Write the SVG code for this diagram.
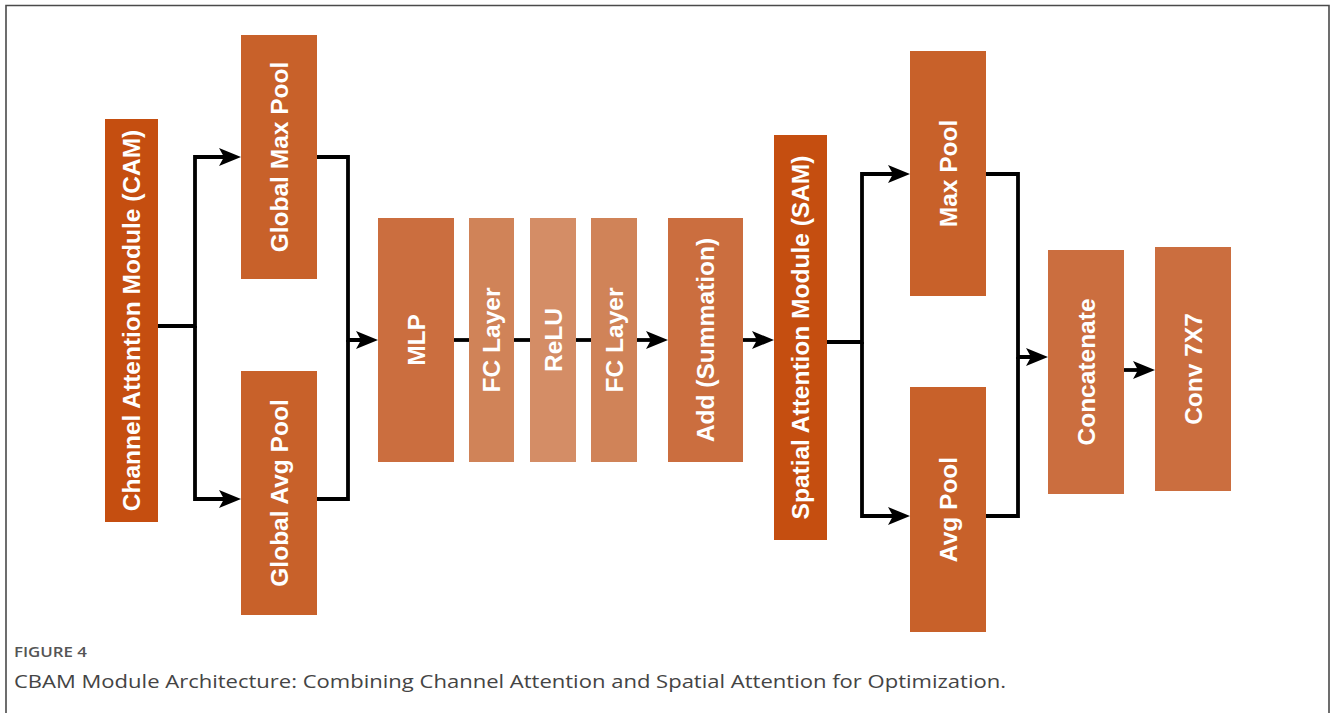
<svg xmlns="http://www.w3.org/2000/svg" width="1332" height="713" viewBox="0 0 1332 713">
  <style>
    .lbl { font-family: "Liberation Sans", Arial, sans-serif; font-weight: bold; font-size: 24.5px; fill: #ffffff; text-anchor: middle; dominant-baseline: central; }
    .mod { fill: #C54E10; }
    .pool { fill: #C8612A; }
    .blk { fill: #CB6E3F; }
    .fc { fill: #D08358; }
    .relu { fill: #D48D66; }
    .wire { fill: none; stroke: #000; stroke-width: 3.8; stroke-linejoin: miter; }
    .cap1 { font-family: "Open Sans", "Liberation Sans", sans-serif; font-size: 14px; font-weight: 600; fill: #555555; }
    .cap2 { font-family: "Open Sans", "Liberation Sans", sans-serif; font-size: 18.5px; fill: #444444; }
  </style>
  <defs>
    <marker id="arr" viewBox="0 0 22 18" refX="5" refY="9" markerWidth="22" markerHeight="18" markerUnits="userSpaceOnUse" orient="auto">
      <path d="M0,0 L22,9 L0,18 L5,9 Z" fill="#000"/>
    </marker>
  </defs>

  <rect x="0" y="0" width="1332" height="713" fill="#ffffff"/>
  <!-- figure frame (open at the bottom) -->
  <path d="M6,720 V5.5 H1329 V720" fill="none" stroke="#4a4a4a" stroke-width="1.6"/>

  <g id="connectors">
    <!-- CAM split -->
    <path class="wire" d="M158,326 H195 V157 H224" marker-end="url(#arr)"/>
    <path class="wire" d="M195,326 V499 H224" marker-end="url(#arr)"/>
    <!-- pools merge into MLP -->
    <path class="wire" d="M317,157 H348 V340 H361" marker-end="url(#arr)"/>
    <path class="wire" d="M317,499 H348 V340"/>
    <!-- MLP chain -->
    <path class="wire" d="M454,340 H469"/>
    <path class="wire" d="M514,340 H530"/>
    <path class="wire" d="M576,340 H591"/>
    <path class="wire" d="M637,340 H651" marker-end="url(#arr)"/>
    <path class="wire" d="M743,340 H757" marker-end="url(#arr)"/>
    <!-- SAM split -->
    <path class="wire" d="M827,342 H862 V174 H893" marker-end="url(#arr)"/>
    <path class="wire" d="M862,342 V516 H893" marker-end="url(#arr)"/>
    <!-- pools merge into concatenate -->
    <path class="wire" d="M986,174 H1018 V357 H1031" marker-end="url(#arr)"/>
    <path class="wire" d="M986,516 H1018 V357"/>
    <path class="wire" d="M1124,370 H1138" marker-end="url(#arr)"/>
  </g>

  <g id="cam">
    <rect class="mod" x="105" y="119" width="53" height="403"/>
    <text class="lbl" transform="translate(131.5,320.5) rotate(-90)">Channel Attention Module (CAM)</text>
  </g>
  <g id="global-max-pool">
    <rect class="pool" x="241" y="35" width="76" height="244"/>
    <text class="lbl" transform="translate(279,157) rotate(-90)">Global Max Pool</text>
  </g>
  <g id="global-avg-pool">
    <rect class="pool" x="241" y="371" width="76" height="244"/>
    <text class="lbl" transform="translate(279,493) rotate(-90)">Global Avg Pool</text>
  </g>
  <g id="mlp">
    <rect class="blk" x="378" y="218" width="76" height="244"/>
    <text class="lbl" transform="translate(416,340) rotate(-90)">MLP</text>
  </g>
  <g id="fc1">
    <rect class="fc" x="469" y="218" width="45" height="244"/>
    <text class="lbl" transform="translate(491.5,340) rotate(-90)">FC Layer</text>
  </g>
  <g id="relu">
    <rect class="relu" x="530" y="218" width="46" height="244"/>
    <text class="lbl" transform="translate(553,340) rotate(-90)">ReLU</text>
  </g>
  <g id="fc2">
    <rect class="fc" x="591" y="218" width="46" height="244"/>
    <text class="lbl" transform="translate(614,340) rotate(-90)">FC Layer</text>
  </g>
  <g id="add">
    <rect class="blk" x="668" y="218" width="75" height="244"/>
    <text class="lbl" transform="translate(705.5,340) rotate(-90)">Add (Summation)</text>
  </g>
  <g id="sam">
    <rect class="mod" x="774" y="135" width="53" height="405"/>
    <text class="lbl" transform="translate(800.5,337.5) rotate(-90)">Spatial Attention Module (SAM)</text>
  </g>
  <g id="max-pool">
    <rect class="pool" x="910" y="51" width="76" height="245"/>
    <text class="lbl" transform="translate(948,173.5) rotate(-90)">Max Pool</text>
  </g>
  <g id="avg-pool">
    <rect class="pool" x="910" y="387" width="76" height="245"/>
    <text class="lbl" transform="translate(948,509.5) rotate(-90)">Avg Pool</text>
  </g>
  <g id="concatenate">
    <rect class="blk" x="1048" y="250" width="76" height="244"/>
    <text class="lbl" transform="translate(1086,372) rotate(-90)">Concatenate</text>
  </g>
  <g id="conv7x7">
    <rect class="blk" x="1155" y="247" width="76" height="244"/>
    <text class="lbl" transform="translate(1193,369) rotate(-90)">Conv 7X7</text>
  </g>

  <g id="caption">
    <text class="cap1" x="14" y="657" textLength="73" lengthAdjust="spacingAndGlyphs">FIGURE 4</text>
    <text class="cap2" x="14" y="688" textLength="992" lengthAdjust="spacingAndGlyphs">CBAM Module Architecture: Combining Channel Attention and Spatial Attention for Optimization.</text>
  </g>
</svg>
